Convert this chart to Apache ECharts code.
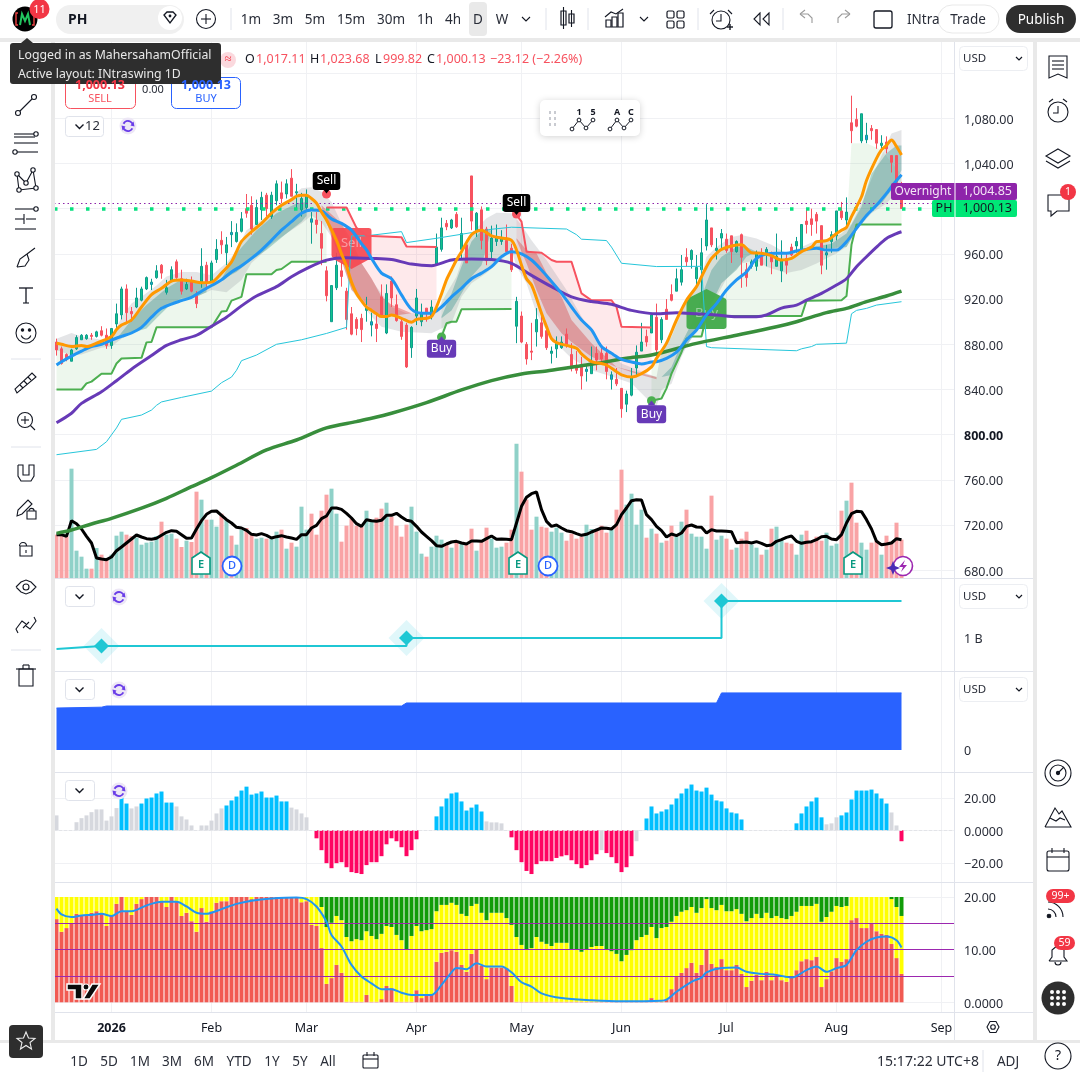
<!DOCTYPE html>
<html><head><meta charset="utf-8">
<style>html,body{margin:0;padding:0;background:#fff}#c{width:1080px;height:1080px}</style>
<script src="https://cdn.jsdelivr.net/npm/echarts@6/dist/echarts.min.js"></script>
</head><body><div id="c"></div>
<script>
// ---------- DATA ----------
const HOLIDAYS = ['2025-12-25','2026-01-01','2026-01-19','2026-02-16','2026-04-03','2026-05-25','2026-06-19','2026-07-03','2026-09-07'];
const FIRST_DAY = '2025-12-16';
const BAR_SLOTS = 180;
const MONTH_NAMES = ['2026','Feb','Mar','Apr','May','Jun','Jul','Aug','Sep'];
const PRICE_GRID_TICKS = [680,720,760,800,840,880,920,960,1000,1040,1080,1120];
const PRICE_LABEL_TICKS = [680,720,760,800,840,880,920,960,1000,1040,1080];
const OSC_TICKS = [-20,0,20];
const RSI_TICKS = [0,10,20];
// open, high, low, close
const ohlc = [[882,885,870,875],[876,878,862,863],[871,872,865,867],[865,876,865,875],[876,888,875,886],[884,889,884,888],[885,889,884,888],[888,890,884,887],[887,892,886,891],[892,896,887,888],
[888,894,876,879],[879,894,876,894],[898,916,894,907],[906,931,902,929],[929,933,898,908],[909,913,900,907],[913,930,912,921],[919,931,918,929],[929,940,928,939],[933,938,928,935],
[939,950,938,945],[950,951,938,943],[926,937,924,930],[936,949,935,946],[953,955,938,939],[938,946,924,927],[929,938,928,933],[936,940,926,927],[923,927,912,916],[935,965,930,949],
[950,953,928,935],[935,954,935,952],[955,973,952,964],[972,980,960,968],[961,975,950,968],[979,989,966,977],[971,987,970,979],[980,997,979,991],[1000,1013,992,996],[1003,1011,977,982],
[986,1008,986,1001],[999,1015,990,1010],[1012,1014,993,1000],[993,1015,991,1012],[1007,1025,1003,1022],[1014,1024,1005,1009],[1013,1026,1009,1022],[1027,1035,1011,1011],[1014,1022,1000,1015],[999,1014,993,1009],
[1001,1017,999,1011],[991,997,969,988],[990,997,978,986],[978,989,950,965],[945,949,918,923],[900,932,900,932],[930,961,928,950],[945,953,931,940],[927,930,893,902],[907,913,888,889],
[902,904,888,894],[903,907,882,893],[910,922,900,912],[897,908,887,900],[898,908,882,894],[922,933,905,905],[890,933,889,925],[936,940,913,921],[915,924,900,901],[900,903,884,887],
[897,899,859,860],[877,896,868,895],[905,929,897,921],[900,916,896,908],[912,912,900,908],[905,919,902,913],[951,978,950,966],[964,992,962,983],[987,990,981,984],[983,991,982,990],
[995,997,983,984],[964,992,955,978],[968,972,952,952],[1029,1029,981,989],[980,997,975,996],[999,1002,964,972],[982,984,950,954],[962,985,955,974],[971,986,967,975],[971,981,968,974],
[972,986,961,962],[965,969,944,946],[896,922,881,918],[905,909,881,882],[880,882,862,867],[874,899,866,873],[891,912,878,902],[899,908,885,887],[892,894,875,877],[872,878,863,874],
[876,887,868,881],[877,887,876,882],[889,894,877,879],[871,881,856,860],[860,874,854,857],[860,869,840,852],[856,862,847,858],[854,878,854,865],[872,878,857,866],[872,879,862,867],
[872,878,849,856],[849,856,840,853],[849,859,843,845],[841,841,815,823],[827,839,820,836],[835,859,834,851],[859,879,851,873],[874,899,874,882],[887,893,878,882],[890,908,890,906],
[904,916,869,875],[884,904,881,902],[911,920,902,902],[924,933,918,919],[927,947,927,938],[935,959,932,946],[957,965,949,953],[955,964,947,963],[938,959,931,948],[946,974,916,961],
[967,1004,963,990],[983,983,966,968],[963,974,955,965],[974,982,965,978],[973,978,961,963],[976,976,952,962],[962,972,961,971],[977,978,930,957],[946,952,931,939],[949,955,947,953],
[949,963,945,961],[958,965,950,950],[961,966,949,964],[959,962,942,953],[949,978,949,958],[945,972,935,955],[956,961,942,950],[966,969,958,959],[967,975,961,971],[963,986,961,986],
[989,1000,978,986],[991,1000,976,986],[995,997,978,989],[985,985,942,950],[959,968,946,961],[971,980,961,977],[976,998,972,998],[998,1006,990,992],[990,1010,982,997],[1076,1100,1058,1069],
[1079,1089,1072,1073],[1060,1084,1058,1084],[1061,1076,1058,1065],[1071,1074,1061,1069],[1070,1070,1053,1058],[1056,1065,1051,1058],[1059,1064,1049,1053],[1047,1047,1032,1041],[1047,1047,1021,1023.25],[1017.11,1023.68,999.82,1000.13]];
const blueCandleIdx = [19,35,51,63,106,111,154,162];
const volume = [130,130,125,328,82,64,28,28,90,70,55,70,127,139,130,125,121,100,106,109,126,169,130,133,118,93,112,108,259,235,175,175,154,193,175,127,100,145,150,130,118,121,118,120,139,145,88,106,94,214,145,193,130,202,250,268,193,109,157,178,157,154,202,169,181,208,226,184,157,124,160,214,139,73,64,94,127,115,100,91,109,103,100,148,82,109,151,118,91,94,106,145,403,319,235,145,184,154,151,139,151,136,112,133,118,124,160,147,145,157,136,145,205,325,220,253,160,205,121,148,133,106,112,157,124,169,205,133,124,124,88,247,115,127,118,85,91,118,139,100,91,70,85,148,154,112,106,103,70,130,142,109,124,112,136,97,103,202,232,286,166,106,85,106,112,70,127,109,166,115];
const volumeMA = [130,130,125,172,163,147,125,105,60,57,55,63,82,93,105,117,129,123,118,116,119,128,137,142,140,130,119,120,147,172,191,200,201,188,175,165,152,150,143,131,129,133,128,120,124,127,123,120,116,130,130,150,158,178,186,210,210,206,194,180,163,155,175,172,170,173,188,188,194,183,173,170,155,138,125,112,97,95,102,108,110,105,102,111,111,110,118,126,116,117,116,115,165,215,242,253,258,205,170,155,159,150,142,139,133,128,131,138,144,150,149,147,160,190,210,232,235,234,190,175,155,142,123,132,127,135,155,159,153,152,135,145,141,141,140,139,106,107,108,105,109,104,97,99,110,115,122,126,110,104,107,109,115,124,125,117,115,130,165,193,200,199,175,147,110,100,102,105,118,115];
const orangeMA = [[0,881],[1,880],[3,878],[5,879],[6,878],[8,881],[11,887],[12,893],[13,897],[15,901.5],[17,913],[19,924],[21,929.5],[23,936],[25,937],[27,936],[29,934.5],[31,935],[33,943],[35,953],[36,962],[37,971],[39,979.6],[41,987],[43,996],[45,1003],[47,1008],[48,1011],[49,1012],[50,1012],[51,1009],[52,1005],[53,997],[54,990],[56,972],[57,960],[58,949],[59,935],[60,925],[61,918.6],[62,913],[63,910],[64,907],[65,904.5],[66,904.5],[67,906],[69,903],[71,899.5],[72,902],[74,903],[75,904.5],[76,913],[77,924.6],[78,937],[79,946],[80,954.6],[81,962],[82,970],[83,977],[84,980],[85,981],[87,976],[89,974],[91,972],[92,963.5],[93,950],[94,938],[95,932.5],[96,920.7],[97,907.5],[98,895.6],[99,885],[100,881.5],[102,879],[104,876.5],[105,871.5],[107,864.7],[109,863],[110,861.7],[112,855.8],[113,853],[115,851],[117,854],[119,860],[120,867.5],[122,881],[124,901.5],[126,919],[128,931],[129,939.8],[130,948.6],[131,956],[132,960.5],[133,964],[135,967],[137,968],[139,961],[141,960.5],[143,958.4],[145,954.5],[147,956],[149,962],[151,966],[152,970.8],[154,971.7],[156,978],[157,981],[158,983.5],[159,993],[161,1010.6],[162,1025],[164,1044.5],[165,1052],[166,1056],[167,1060.7],[168,1055],[169,1047.5]];
const blueMA = [[0,861.6],[1,864.6],[3,869.6],[5,874],[7,878],[9,880],[11,883.8],[13,887],[15,890],[17,895],[19,904],[21,911.8],[23,915.6],[25,918.6],[27,921.5],[29,927],[31,932],[33,937],[35,944],[37,949.5],[39,956],[41,963.4],[43,972],[45,981],[47,988.5],[49,996],[51,998.8],[53,998],[55,991],[57,987],[59,981],[61,969],[62,963.5],[63,956],[65,943],[67,938],[69,923.7],[71,911],[73,907.5],[75,907.5],[77,913],[79,922],[81,929.6],[83,938],[85,943],[87,948.7],[89,957.6],[91,962],[93,960],[95,954.6],[97,945.8],[99,935.5],[101,925],[103,913],[105,901.5],[107,892.7],[109,878],[111,872],[113,866.7],[115,864.4],[117,862.6],[119,864.4],[120,864.6],[122,867.5],[124,873],[126,883.8],[128,892.6],[130,906],[132,916],[134,928],[136,937],[138,944],[140,956],[142,960],[144,960.5],[146,960.5],[148,962.5],[150,964],[152,965],[154,963.4],[156,963.4],[158,970.8],[160,982.6],[162,994],[164,1003],[166,1013.5],[167,1019.5],[169,1030]];
const purpleMA = [[0,810.6],[3,819],[5,827.7],[9,838],[12,847.8],[15,858],[19,870],[22,879],[25,884],[28,888],[31,896],[34,904],[37,914],[40,922.7],[44,931],[47,939.8],[50,947],[54,954.5],[58,956.6],[63,956],[67,955],[71,951],[75,949.6],[79,954.6],[83,955.5],[87,955],[91,951.7],[95,941],[99,931],[103,922],[107,917.8],[111,915.4],[115,910],[120,907],[124,908],[128,907],[132,905.9],[136,904.4],[140,904.4],[142,906],[145,912],[148,914.7],[150,919],[153,925],[156,932.4],[158,938],[160,948.6],[162,957.5],[164,966],[166,973.7],[168,978],[169,979.6]];
const darkGreenMA = [[0,712.7],[3,715.7],[7,721],[11,726],[17,735],[22,743.7],[27,754],[31,762],[36,773],[42,786.5],[48,795.3],[54,806],[60,811.6],[63,814.5],[67,819],[74,828.4],[81,839.6],[87,847.9],[93,853.8],[98,856.4],[103,859.7],[107,862.3],[114,867.6],[119,870.5],[128,880.8],[136,888],[144,895.5],[148,900],[154,908],[158,911.8],[162,917.7],[166,922.7],[169,927]];
const cyanLine = [[0,782.3],[8,787],[10,793.8],[12,806],[13,813.6],[17,817.4],[19,821.8],[20,826],[21,829],[25,833],[31,838.6],[33,846],[35,851],[36,857],[37,865.5],[40,870.5],[44,880],[49,884],[54,889.6],[58,895],[59,976],[62,976],[69,979.7],[70,970],[76,973.8],[83,978.8],[87,981.8],[91,983.6],[102,982],[104,977],[105,973],[110,971.8],[111,966],[113,951.7],[120,948.8],[129,949],[130,878],[131,877],[148,874.3],[149,876],[151,878],[152,880],[158,881],[159,907],[160,910],[162,911.8],[164,914.7],[169,917.7]];
const greenStepA = [[0,840],[5,840],[6,845.4],[7,847],[9,854],[11,854],[12,863],[13,867.5],[17,868],[18,881.7],[19,882],[20,895],[31,895],[33,909],[34,909.4],[35,918.6],[37,922],[38,942],[43,942],[44,945.7],[45,946.6],[47,953],[54,953]];
const greenStepB = [[77,886.8],[78,898.6],[79,900],[80,900],[81,911],[91,911.3]];
const greenStepC = [[119,830],[121,832],[122,841],[123,854],[125,873],[126,885],[127,887],[129,887],[130,905],[149,905],[150,918.6],[157,919],[158,922.7],[159,968],[160,986],[169,986]];
const redStepA = [[54,1001],[58,1001],[60,983],[62,976],[69,974.7],[70,966.5],[76,966]];
const redStepB = [[92,994.5],[93,988.6],[94,962],[97,961],[99,954.6],[100,953],[103,953],[105,925],[106,922],[107,919],[111,919],[112,913],[113,895.6],[119,894.8]];
const lateFillTop = [[158,983.5],[159,1058],[162,1058],[165,1052],[169,1030]];
const grayUpper = [[0,885],[3,890],[5,887],[9,884],[11,885],[13,904],[15,916],[17,922],[20,932],[22,940],[25,944],[28,944],[31,941],[34,952],[36,963],[38,981],[40,987],[43,996],[46,1006],[49,1018],[51,1019],[53,1015],[55,1006],[57,987],[59,966],[61,952],[64,931],[67,913],[70,907.5],[74,907.5],[76,909],[78,925],[80,940],[82,966.5],[84,982.7],[86,991.5],[88,996.5],[91,996],[93,985.6],[95,972],[98,954.6],[102,928],[105,904.5],[109,878],[113,863],[117,856],[120,851],[121,875],[123,886.7],[126,919],[129,940],[130,957.5],[132,966],[135,975],[137,976.7],[140,973.7],[143,968],[146,960.5],[149,966],[152,972],[155,973.7],[157,978],[159,987],[161,1004.7],[164,1037],[167,1066.6],[169,1069.6]];
const grayLower = [[0,875],[3,870],[5,871],[9,877],[11,878],[13,885],[16,893],[18,897],[20,910],[23,916],[25,921],[28,922],[31,928],[34,926],[37,937],[39,952],[41,960],[43,969],[46,978],[49,987],[51,994],[53,988],[55,975],[57,954],[59,928],[61,916],[63,904.5],[65,895.6],[69,891],[75,889.8],[77,894],[79,898.6],[81,922],[83,934],[86,943],[89,954.6],[91,963.5],[92,948.8],[94,934],[96,907.5],[99,885],[103,867.6],[107,857],[111,851.4],[115,845.5],[119,827.8],[120,825],[121,839.5],[123,845],[125,869],[127,886.7],[129,904],[132,922],[134,938],[137,951.6],[140,954.5],[142,948.6],[146,943],[149,945.7],[152,951.6],[156,960.5],[158,966],[160,981],[163,996],[166,1004.7],[169,1019.5]];
const tealUpperA = [[12,885],[15,901.5],[18,914.7],[22,929.5],[25,937.4],[28,935.4],[30,934.5]];
const tealLowerA = [[12,885],[15,890],[18,894],[20,903],[23,916],[25,918.6],[28,922],[30,926]];
const tealUpperB = [[33,938],[36,960.5],[40,981],[44,996],[48,1004.7],[50,1006]];
const tealLowerB = [[33,937],[36,944],[39,954.6],[42,963.4],[46,978],[49,988.5],[50,993.5]];
const tealUpperC = [[77,904.5],[79,925],[81,948.8],[83,971],[85,981],[87,981]];
const tealLowerC = [[77,903],[79,910],[81,925],[83,940],[85,950],[87,981]];
const tealUpperD = [[121,851],[123,860],[125,881],[127,898.5],[131,945.7],[133,957.5],[136,966],[138,966],[140,962]];
const tealLowerD = [[121,851],[123,852.8],[125,872],[127,885],[130,907],[133,934],[136,945.7],[138,957.5],[140,962]];
const tealUpperE = [[149,964],[155,969],[158,978],[161,1001.8],[163,1031],[166,1049],[168,1056],[169,1056]];
const tealLowerE = [[149,964],[155,965],[158,966],[161,988.5],[163,999],[165,1004.7],[167,1016.5],[169,1034]];
const redUpperA = [[53,1003],[57,987],[59,972],[61,951.7],[63,938.4],[65,922],[67,915],[71,907.5]];
const redLowerA = [[53,1001.7],[55,975],[57,954.6],[59,928],[61,920.7],[63,910],[65,906],[67,905],[71,907.5]];
const redUpperB = [[92,973.8],[94,963.5],[96,960.5],[98,943],[101,922],[103,901.5],[107,881],[112,860],[120,851]];
const redLowerB = [[92,972.4],[94,951.7],[96,928],[98,907.5],[101,889.8],[103,882],[107,869],[112,860],[116,854],[120,849]];
const sellDots = [[54,1013],[92,995.3]];
const sellTags = [[54,1024.5],[92,1005]];
const sellTips = [[54,1015.7],[92,996.6]];
const buyDots = [[77,886.5],[119,830]];
const buyTags = [[77,876],[119,818]];
const buyTips = [[77,885],[119,828]];
const bigSell = [[59,969.6]];
const bigBuy = [[130,907.7]];
const lastPrice = 1000.13;
const overnightPrice = 1004.85;
// earnings pane (billions)
const epsLine = [[0,0.9],[9,0.927],[70,0.927],[70,1],[133,1],[133,1.336],[169,1.336]];
const epsMarks = [[9,0.927],[70,1],[133,1.336]];
const salesArea = [[0,5],[9,5.1],[10,5.24],[69,5.24],[70,5.6],[132,5.6],[133,6.8],[169,6.8]];
// momentum histogram
const hist = [9.2,0,0,0,5,7.5,9.2,11.2,12.9,12.9,6,8.6,13.7,20.4,16.5,13.5,14.7,16.5,19.6,20.2,22.7,23.9,17.1,17.1,14.7,8.6,6.7,3,0,3,3,6,10.4,13.5,15.3,18.4,20.8,24.5,26.9,22,22.7,23.9,20.2,20.2,21.4,17.8,17.8,14,12.9,10.4,8,0,-4.9,-12.2,-20.2,-23.3,-20.2,-19.6,-22.7,-25.7,-26.3,-26.9,-21.4,-19.6,-19.6,-15.9,-8.6,-4.9,-6.7,-10.4,-15.9,-12.2,-5.5,0,0,0,8.6,14.7,19.6,22.7,23.3,17.8,12.2,14,15.9,11.6,5.5,4.9,4.9,4.3,0,-4.3,-12.2,-19.6,-25,-26.9,-20.8,-19,-19,-19,-17,-16,-15.3,-18.4,-20.8,-23.3,-21.4,-18.4,-14.7,-12.2,-14,-16.5,-20.2,-25.7,-22.7,-15.9,-6.7,0,7.3,14.7,10.4,11.6,12.9,15.9,19.6,22.7,25.7,28.2,24.5,23.9,26.3,22,18.4,17.8,13.5,11,10.4,6.7,0,0,0,0,0,0,0,0,0,0,4.3,10.4,14.7,17.8,20.2,8,3.7,4.3,8,9.2,11,19,24.5,24.5,24.5,25.1,22.7,19.6,16.5,11,3,-6.7];
const histGrayIdx = [0,4,5,6,7,8,9,10,11,12,15,16,24,25,26,27,29,30,31,32,33,47,48,49,50,86,87,88,89,109,116,154,155,156,167,168];
// stacked oscillator: red height and top of yellow
const redPart = [15.8,13.4,14.1,14.9,16.8,16.6,16.6,17,17.3,16.8,14.5,16.4,18.7,20,17.2,16.6,18.7,19.6,20,20,20,19.2,18.1,20,19.2,16.4,17,15.4,13.4,17.9,15.3,17.3,18.9,19.2,19.2,20,20,20,20,19.6,20,20,20,20,20,20,20,20,20,19,19.2,14.7,14.5,10.3,3.5,4.6,7.1,5.6,0.1,0.1,0.1,0.1,1.4,0.1,0.1,0.6,3.1,2.7,0.1,0.1,0.1,0.1,2.3,0.8,1.4,1.4,7.7,9.4,9.6,9.9,9.6,7.1,5.8,9.2,10.1,6.9,4.4,6.6,6.6,6.6,6.5,3.1,0.1,0.1,0.1,0.1,0.1,0.1,0.1,0.1,0.1,0.1,0.1,0.1,0.1,0.1,0.1,0.1,0.1,0.1,0.1,0.1,0.1,0.1,0.1,0.1,0.1,0.1,0.1,0.8,0.1,0.1,0.6,2.5,4.8,5.6,6.5,7.5,5.6,7.1,10.1,7.3,6.7,8.2,6.1,6.1,7.1,5.4,2.9,4.1,5.2,4.2,5.8,4.2,4.8,4.2,3.9,5,6.1,7.8,8.2,8,8.6,2.9,4.4,5.9,8.4,7.7,8.2,15.6,16,14.1,14.1,15.1,13.5,13,12.8,11.1,8.4,5.4];
const yellowTop = [20,20,20,20,20,20,20,20,20,20,20,20,20,20,20,20,20,20,20,20,20,20,20,20,20,20,20,20,20,20,20,20,20,20,20,20,20,20,20,20,20,20,20,20,20,20,20,20,20,20,20,20,20,18.1,14.3,15.1,16.4,15.6,12.4,11.6,12,11.8,13.5,12.6,12,13,14.5,14.3,12.8,11.8,10.1,12.6,14.5,13.5,13.7,13.9,17.3,18.5,18.5,18.9,18.5,16.8,16.4,18.3,18.7,17,15.6,17,17,17,16,14.7,12.4,10.9,10.1,10.3,12.4,11.5,11.1,10.7,11.3,11.3,11.3,10.1,10.1,9.6,10.1,10.5,10.7,10.7,10.1,9.7,9.2,7.8,9,9.9,11.8,12.4,12.8,14.3,12.2,14.1,14.3,15.3,16.4,17.2,17.5,18.1,17,17.9,19.6,17.9,17.5,18.5,17.3,17.3,17.7,16.8,15.4,16,16.8,16,17,16,16.4,16,15.8,16.4,17.2,18.3,18.3,18.3,18.7,15.3,16.2,17.2,18.3,18.1,18.3,20,20,20,20,20,20,20,20,19.6,18.1,16.4];
const rsiLine = [[0,17.8],[1,16.7],[3,16.2],[5,16.5],[7,16.6],[9,16.8],[11,16.4],[13,17.3],[15,17.3],[18,18.4],[21,19.1],[24,19.1],[26,18.2],[28,17],[30,16.8],[33,17.7],[36,18.7],[39,19.3],[43,19.7],[48,19.9],[50,19.6],[52,18.2],[54,15.3],[55,12.8],[57,10.6],[59,7.1],[61,4.9],[63,3.6],[65,2.5],[67,2.5],[69,1.8],[71,1.4],[75,1.4],[77,3.3],[79,5.7],[80,6.5],[82,6.3],[84,7.4],[86,6.8],[89,6.8],[91,5.7],[93,3.8],[95,3],[97,1.7],[101,0.8],[107,0.4],[113,0.2],[121,0.3],[122,0.5],[124,2],[127,3.9],[129,4.7],[130,5.7],[133,6.5],[136,6.6],[138,5.8],[141,5.4],[144,5.2],[147,4.7],[150,6.1],[152,6.8],[154,5.8],[156,6.5],[158,7.1],[160,9.9],[162,11.5],[164,12.3],[166,12.5],[168,11.8],[169,10.4]];
const rsiLevels = [15,10,5];

// ---------- AXIS CATEGORIES ----------
const categories = [];
(function(){ let d = new Date(FIRST_DAY+'T00:00:00Z');
  while (categories.length < BAR_SLOTS) { const s = d.toISOString().slice(0,10), w = d.getUTCDay();
    if (w>0 && w<6 && !HOLIDAYS.includes(s)) categories.push(s); d = new Date(d.getTime()+864e5); } })();
const monthStart = new Map(); let monthNo = 0; let prevM = '2025-12';
categories.forEach((c,i)=>{ const m=c.slice(0,7); if(m!==prevM){ monthStart.set(i,MONTH_NAMES[monthNo++]); prevM=m; } });
const isMonth = i => monthStart.has(i);

// ---------- STYLE ----------
const FONT='"Noto Sans"', INK='#131722', GRIDC='#f0f1f4', SEP='#e0e3eb';
const UP='#12c48b', UPB='#0e9d8e', DN='#f7525f';
const grids=[{left:54,width:900,top:42,height:536},{left:54,width:900,top:579,height:92},{left:54,width:900,top:672,height:100},{left:54,width:900,top:773,height:109},{left:54,width:900,top:883,height:129}];
const xAxisFor=(g,last)=>({type:'category',gridIndex:g,data:categories,boundaryGap:true,axisLine:{show:false},axisTick:{show:false},
  splitLine:{show:true,interval:(i)=>isMonth(i),alignWithLabel:true,lineStyle:{color:GRIDC,width:1}},
  axisLabel:last?{show:true,interval:(i)=>isMonth(i),margin:10,fontFamily:FONT,fontSize:12.5,color:INK,
    formatter:(v,i)=>{const n=monthStart.get(i);return n==='2026'?'{b|2026}':(n||'');},rich:{b:{fontWeight:700,fontFamily:FONT,fontSize:12.5,color:INK}}}:{show:false}});
const fmt2=v=>v.toLocaleString('en-US',{minimumFractionDigits:2,maximumFractionDigits:2});
const yAxisFor=(g,min,max,grid,labels,fmt,extra)=>Object.assign({type:'value',gridIndex:g,position:'right',min,max,scale:true,axisLine:{show:false},
  axisTick:{show:false,customValues:grid},splitLine:{show:grid.length>0,lineStyle:{color:GRIDC,width:1}},
  axisLabel:{show:labels.length>0,customValues:labels,margin:10,padding:[3.5,0,0,0],fontFamily:FONT,fontSize:12.5,color:'#2a2e39',formatter:fmt,hideOverlap:false,showMinLabel:true,showMaxLabel:true,
    rich:{b:{fontWeight:700,fontFamily:FONT,fontSize:12.5,color:INK}}}},extra||{});

// ---------- SERIES HELPERS ----------
const seg=(a,from,to)=>a.filter(p=>p[0]>=from&&p[0]<=to);
const ribbon=(upper,lower,fill,z)=>({type:'custom',xAxisIndex:0,yAxisIndex:0,z,silent:true,clip:true,data:[upper[0]],
  renderItem:(p,api)=>({type:'polygon',silent:true,shape:{points:upper.map(q=>api.coord(q)).concat(lower.slice().reverse().map(q=>api.coord(q)))},style:{fill}})});
const line=(data,color,width,z,smooth,xi,yi)=>({type:'line',xAxisIndex:xi||0,yAxisIndex:yi||0,data,showSymbol:false,smooth:smooth||false,z,silent:true,lineStyle:{color,width},itemStyle:{color}});
const tag=(data,text,fill)=>({type:'scatter',xAxisIndex:0,yAxisIndex:0,data,symbol:'rect',symbolSize:1,z:9,silent:true,itemStyle:{color:fill,opacity:1},
  label:{show:true,position:'inside',formatter:text,color:'#fff',fontFamily:FONT,fontSize:12,backgroundColor:fill,borderRadius:3,padding:[3,4,3,4]}});
const tip=(data,fill,rot)=>({type:'scatter',xAxisIndex:0,yAxisIndex:0,data,symbol:'triangle',symbolSize:[8,5],symbolRotate:rot,z:9,silent:true,itemStyle:{color:fill,opacity:1}});
const pin=(data,color,size)=>({type:'scatter',xAxisIndex:0,yAxisIndex:0,data,symbol:'circle',symbolSize:size,z:8,silent:true,itemStyle:{color,opacity:1}});
const bigMark=(data,kind)=>({type:'custom',xAxisIndex:0,yAxisIndex:0,z:5,silent:true,data,renderItem:(p,api)=>{
  const c=api.coord(data[p.dataIndex]), sell=kind==='Sell', col=sell?'rgba(246,72,80,.92)':'rgba(67,170,75,.97)';
  return {type:'group',x:c[0],y:c[1],children:[
    {type:'rect',shape:{x:-20,y:-15,width:40,height:sell?30:31,r:3},style:{fill:col}},
    {type:'polygon',shape:{points:sell?[[-20,15],[20,15],[0,26]]:[[-18,-15],[18,-15],[0,-24]]},style:{fill:col}},
    {type:'text',x:0,y:0,style:{text:kind,fill:'rgba(255,255,255,.45)',font:'13px '+FONT,align:'center',verticalAlign:'middle',textAlign:'center',textVerticalAlign:'middle'}}]};}});

const candleData=ohlc.map((r,i)=>{const o={value:[r[0],r[3],r[2],r[1]]};
  if(blueCandleIdx.includes(i)) o.itemStyle={color:'#2196f3',color0:'#2196f3',borderColor:'#0e9d8e',borderColor0:'#f7525f'};return o;});
const volData=volume.map((v,i)=>({value:v,itemStyle:{color:ohlc[i][3]>=ohlc[i][0]?'#8fd1c8':'#f9a3a5'}}));
const histData=hist.map((v,i)=>({value:v,itemStyle:{color:histGrayIdx.includes(i)?'#d6d8de':(v>=0?'#00bfff':'#ff0562')}}));

const series=[
  ribbon(seg(orangeMA,0,54),greenStepA,'rgba(76,175,80,.10)',2),
  ribbon(redStepA,seg(orangeMA,54,76),'rgba(242,54,69,.11)',2),
  ribbon(seg(orangeMA,77,91),greenStepB,'rgba(76,175,80,.10)',2),
  ribbon(redStepB,seg(orangeMA,92,119),'rgba(242,54,69,.11)',2),
  ribbon(seg(orangeMA,119,157).concat(lateFillTop),greenStepC,'rgba(76,175,80,.10)',2),
  ribbon(grayUpper,grayLower,'rgba(120,123,134,.20)',3),
  ribbon(tealUpperA,tealLowerA,'rgba(0,120,110,.28)',3),ribbon(tealUpperB,tealLowerB,'rgba(0,120,110,.28)',3),
  ribbon(tealUpperC,tealLowerC,'rgba(0,120,110,.28)',3),ribbon(tealUpperD,tealLowerD,'rgba(0,120,110,.28)',3),ribbon(tealUpperE,tealLowerE,'rgba(0,120,110,.28)',3),
  ribbon(redUpperA,redLowerA,'rgba(210,50,50,.35)',3),ribbon(redUpperB,redLowerB,'rgba(210,50,50,.35)',3),
  {type:'bar',xAxisIndex:0,yAxisIndex:1,data:volData,barWidth:4,z:2,silent:true},
  line(volumeMA.map((v,i)=>[i,v]),'#000',3,4,false,0,1),
  {type:'candlestick',xAxisIndex:0,yAxisIndex:0,data:candleData,barWidth:3.2,z:4,silent:true,
    itemStyle:{color:UP,color0:DN,borderColor:UPB,borderColor0:DN,borderWidth:1},
    markLine:{silent:true,symbol:'none',animation:false,label:{show:false},data:[
      {yAxis:lastPrice,lineStyle:{color:'#08e07f',width:3.5,type:[3.5,12.5]}},
      {yAxis:overnightPrice,lineStyle:{color:'#8e24aa',width:1,type:[1.5,3]}}]}},
  bigMark(bigSell,'Sell'),bigMark(bigBuy,'Buy'),
  line(cyanLine,'#26c6da',1,5),
  line(greenStepA,'#4caf50',2,5),line(greenStepB,'#4caf50',2,5),line(greenStepC,'#4caf50',2,5),
  line(redStepA,'#f7525f',2,5),line(redStepB,'#f7525f',2,5),
  line(darkGreenMA,'#388e3c',3.5,6,0.3),
  line(purpleMA,'#673ab7',3,6,0.3),
  line(blueMA,'#2196f3',3,7,0.3),
  line(orangeMA,'#ff9800',3,7,0.3),
  pin(sellDots,'#f7525f',9),pin(buyDots,'#4caf50',9),
  tag(sellTags,'Sell','#000'),tag(buyTags,'Buy','#673ab7'),
  tip(sellTips,'#000',180),tip(buyTips,'#673ab7',0),
  // earnings pane
  line(epsLine,'#1fc7d4',2,3,false,1,2),
  {type:'scatter',xAxisIndex:1,yAxisIndex:2,data:epsMarks,symbol:'diamond',symbolSize:36,z:2,silent:true,itemStyle:{color:'rgba(38,198,218,.14)',opacity:1}},
  {type:'scatter',xAxisIndex:1,yAxisIndex:2,data:epsMarks,symbol:'diamond',symbolSize:15,z:4,silent:true,itemStyle:{color:'#1fc7d4',opacity:1}},
  // sales area
  {type:'line',xAxisIndex:2,yAxisIndex:3,data:salesArea,showSymbol:false,silent:true,lineStyle:{color:'#2962ff',width:1},areaStyle:{color:'#2962ff',opacity:1,origin:0}},
  // histogram
  {type:'bar',xAxisIndex:3,yAxisIndex:4,data:histData,barWidth:4,silent:true,
    markLine:{silent:true,symbol:'none',animation:false,label:{show:false},data:[{yAxis:0,lineStyle:{color:'#e3e4e8',width:1,type:[3,2]}}]}},
  // stacked oscillator
  {type:'bar',xAxisIndex:4,yAxisIndex:5,stack:'s',data:redPart,barWidth:4,silent:true,itemStyle:{color:'#f15a52'}},
  {type:'bar',xAxisIndex:4,yAxisIndex:5,stack:'s',data:yellowTop.map((v,i)=>+(v-redPart[i]).toFixed(1)),barWidth:4,silent:true,itemStyle:{color:'#ffff00'}},
  {type:'bar',xAxisIndex:4,yAxisIndex:5,stack:'s',data:yellowTop.map(v=>+(20-v).toFixed(1)),barWidth:4,silent:true,itemStyle:{color:'#119c08'},
    markLine:{silent:true,symbol:'none',animation:false,z:6,label:{show:false},lineStyle:{color:'#9c27b0',width:1,type:'solid'},data:rsiLevels.map(v=>({yAxis:v}))}},
  line(rsiLine,'#2196f3',2,6,0.3,4,5),
];

// ---------- CHROME (graphic layer) ----------
const G=[], Z=100;
const sty=(o)=>Object.assign({stroke:'#131722',lineWidth:1.1,fill:'none'},o||{});
const rect=(x,y,w,h,fill,o={})=>G.push({type:'rect',z:o.z||Z,silent:true,shape:{x,y,width:w,height:h,r:o.r||0},style:{fill,stroke:o.stroke||'none',lineWidth:o.lw||1,shadowBlur:o.sb||0,shadowColor:o.sc||'transparent',shadowOffsetY:o.sy||0}});
const ln=(x1,y1,x2,y2,c,w,z)=>G.push({type:'line',z:z||Z,silent:true,shape:{x1,y1,x2,y2},style:{stroke:c||INK,lineWidth:w||1.1}});
const pl=(pts,o)=>G.push({type:'polyline',z:Z,silent:true,shape:{points:pts},style:sty(o)});
const pg=(pts,o)=>G.push({type:'polygon',z:Z,silent:true,shape:{points:pts},style:sty(o)});
const circ=(x,y,r,o)=>G.push({type:'circle',z:Z,silent:true,shape:{cx:x,cy:y,r},style:sty(o)});
const arc=(x,y,r,a,b,o)=>G.push({type:'arc',z:Z,silent:true,shape:{cx:x,cy:y,r,startAngle:a,endAngle:b,clockwise:true},style:sty(o)});
const txt=(x,y,text,o={})=>G.push({type:'text',z:o.z||Z+1,silent:true,x,y:y+1,style:{text,fill:o.c||INK,font:`${o.w||400} ${o.s||13}px ${FONT}`,align:o.a||'center',verticalAlign:'middle',textAlign:o.a||'center',textVerticalAlign:'middle'}});

// panel frames
rect(0,0,1080,38,'#fff'); rect(0,38,1080,4,'#e9e9e9');
rect(0,42,51,998,'#fff'); rect(51,42,4,998,'#e9e9e9');
rect(1033,42,4,998,'#e9e9e9'); rect(1037,42,43,998,'#fff');
rect(0,1040,1080,3,'#e9e9e9'); rect(0,1043,1080,37,'#fff');
ln(954.5,42,954.5,1040,SEP,1);
[578.5,671.5,772.5,882.5,1012.5].forEach(y=>ln(55,y,1033,y,SEP,1));

// top bar
circ(25,19,12.5,{fill:'#000',stroke:'none'}); pl([[20,25],[22,14],[25,21],[28,14],[30,25]],{stroke:'#22c55e',lineWidth:2});
pl([[18,13],[16,13],[16,25],[18,25]],{stroke:'#ef4444',lineWidth:1.4}); pl([[32,13],[34,13],[34,25],[32,25]],{stroke:'#ef4444',lineWidth:1.4});
circ(39.5,9,10,{fill:'#f23645',stroke:'none'}); txt(39.5,9,'11',{c:'#fff',s:11});
rect(56,5,128,29,'#f0f0f0',{r:14.5}); txt(68,19,'PH',{a:'left',w:700,s:14});
circ(170,18,12,{fill:'#fff',stroke:'none'}); pg([[164,15],[167,12],[173,12],[176,15],[170,23]],{lineWidth:1.3}); circ(170,16,1.4,{fill:INK,stroke:'none'});
circ(206,19,9.5,{}); ln(201,19,211,19); ln(206,14,206,24); ln(231,8,231,30,SEP,1);
rect(469,2,18,34,'#e9e9e9',{r:4});
[['1m',251],['3m',283],['5m',315],['15m',351],['30m',391],['1h',425],['4h',453],['D',478],['W',502]].forEach(a=>txt(a[1],19,a[0],{s:13.5,c:'#2a2e39'}));
pl([[522,17],[526,21],[530,17]],{}); ln(546,8,546,30,SEP,1);
rect(561,11,5,14,'#fff',{stroke:INK,lw:1.2}); ln(563.5,7,563.5,29); rect(569,14,5,9,'#fff',{stroke:INK,lw:1.2}); ln(571.5,10,571.5,27); ln(588,8,588,30,SEP,1);
rect(606,20,5,7,'none',{stroke:INK,lw:1.2}); rect(612,17,5,10,'none',{stroke:INK,lw:1.2}); rect(618,13,5,14,'none',{stroke:INK,lw:1.2}); pl([[605,17],[611,12],[616,14],[623,9]],{});
pl([[640,17],[644,21],[648,17]],{});
[[667,11],[677,11],[667,21],[677,21]].forEach(p=>rect(p[0],p[1],7,7,'none',{stroke:INK,lw:1.2,r:1.5})); ln(698,8,698,30,SEP,1);
circ(721,20,9,{}); pl([[721,14],[721,21],[716,21]],{}); ln(714,10,710,14); ln(728,10,732,14); ln(727,27,733,27,INK,1.4); ln(730,24,730,30,INK,1.4);
pg([[760,13],[754,19],[760,25]],{}); pg([[769,13],[763,19],[769,25]],{}); ln(783,8,783,30,SEP,1);
pl([[800,14],[805,10]],{stroke:'#9a9a9a'}); pl([[800,14],[805,18]],{stroke:'#9a9a9a'}); pl([[800,14],[808,14],[812,18],[812,23]],{stroke:'#9a9a9a'});
pl([[850,14],[845,10]],{stroke:'#9a9a9a'}); pl([[850,14],[845,18]],{stroke:'#9a9a9a'}); pl([[850,14],[842,14],[838,18],[838,23]],{stroke:'#9a9a9a'});
rect(874,11,18,17,'none',{stroke:INK,lw:1.3,r:2}); txt(907,19,'INtra',{a:'left',s:13.5,c:'#2a2e39'});
rect(938,5,61,28,'#fff',{r:14,stroke:'#e9e9e9'}); txt(968,19,'Trade',{s:13.5,c:'#2a2e39'});
rect(1006,5,70,28,'#2e2e2e',{r:14}); txt(1041,19,'Publish',{s:13.5,c:'#fff'});

// legend row + order boxes
circ(228,60,8,{fill:'#fbd9de',stroke:'none'}); txt(228,58,'≈',{c:'#f23645',s:13});
[['O',245,INK],['1,017.11',256,DN],['H',310,INK],['1,023.68',320,DN],['L',375,INK],['999.82',383,DN],['C',427,INK],['1,000.13',436,DN],['−23.12 (−2.26%)',490,DN]].forEach(a=>txt(a[1],58,a[0],{a:'left',s:12.5,c:a[2]}));
rect(65.5,77.5,70,31,'#fff',{r:5,stroke:'#f7525f'}); txt(100,84,'1,000.13',{c:'#f23645',w:700,s:12.5}); txt(100,98,'SELL',{c:DN,s:11});
txt(153,89,'0.00',{s:11,c:'#2a2e39'});
rect(171.5,77.5,69,31,'#fff',{r:5,stroke:'#2962ff'}); txt(206,84,'1,000.13',{c:'#2962ff',w:700,s:12.5}); txt(206,98,'BUY',{c:'#2962ff',s:11});
// tooltip
pg([[21,43],[27,38],[33,43]],{fill:'#2e2e2e',stroke:'none'}); rect(10,43,211,41,'#2e2e2e',{r:3});
txt(18,54,'Logged in as MahersahamOfficial',{a:'left',c:'#e8e8e8',s:12.3}); txt(18,73,'Active layout: INtraswing 1D',{a:'left',c:'#e8e8e8',s:12.3});
// collapse buttons + sync icons
const syncIcon=(x,y)=>{circ(x,y,8.5,{fill:'#ede7f6',stroke:'none'}); arc(x,y,5,3.6,6.0,{stroke:'#6a3de8',lineWidth:1.9}); arc(x,y,5,0.5,2.9,{stroke:'#6a3de8',lineWidth:1.9});
  pg([[x+5.5,y-4.5],[x+6.5,y+0.5],[x+2.5,y-0.5]],{fill:'#6a3de8',stroke:'none'}); pg([[x-5.5,y+4.5],[x-6.5,y-0.5],[x-2.5,y+0.5]],{fill:'#6a3de8',stroke:'none'});};
const chevBtn=(x,y,w,h,extra)=>{rect(x,y,w,h,'#fff',{r:3,stroke:SEP}); pl([[x+10,y+h/2-2],[x+14,y+h/2+2],[x+18,y+h/2-2]],{lineWidth:1.4}); if(extra) txt(x+27,y+h/2-1,extra,{s:13,c:'#2a2e39'});};
chevBtn(65.5,116.5,38,20,'12'); syncIcon(128,126);
chevBtn(65.5,586.5,29,20); syncIcon(119,597);
chevBtn(65.5,679.5,29,20); syncIcon(119,690);
chevBtn(65.5,780.5,29,20); syncIcon(119,791);
// floating tool
rect(540,100,100,36,'#fff',{r:5,sb:7,sc:'rgba(0,0,0,.18)',sy:1});
[[549,111],[554,111],[549,117],[554,117],[549,123],[554,123]].forEach(p=>rect(p[0],p[1],2,3,'#c9cbd1'));
const wave=(x)=>{pl([[x,129],[x+7,120],[x+14,128],[x+21,120]],{lineWidth:1}); [[x,129],[x+7,120],[x+14,128],[x+21,120]].forEach(p=>circ(p[0],p[1],1.9,{fill:'#fff',lineWidth:1}));};
wave(572); wave(610); txt(579,111,'1',{w:700,s:9}); txt(593,111,'5',{w:700,s:9}); txt(617,111,'A',{w:700,s:9}); txt(631,111,'C',{w:700,s:9});
// USD boxes
[46,584,677].forEach(y=>{rect(959.5,y+.5,68,24,'#fff',{r:4,stroke:'#eceef2'}); txt(963,y+12,'USD',{a:'left',s:11.5,c:'#2a2e39'}); pl([[1016,y+11],[1019,y+14],[1022,y+11]],{lineWidth:1.2});});
txt(964,638,'1 B',{a:'left',s:12.5,c:'#2a2e39'}); txt(964,750,'0',{a:'left',s:12.5,c:'#2a2e39'});
// price tags
rect(891,183,126,17,'#8e24aa',{r:2}); ln(955,183,955,200,'#fff',1); txt(923,190.5,'Overnight',{c:'#f3e5f5',s:12}); txt(1012,190.5,'1,004.85',{a:'right',c:'#f3e5f5',s:12.5});
rect(932,200,85,17,'#00e676',{r:2}); ln(955,200,955,217,'#fff',1); txt(944,207.5,'PH',{c:INK,s:12.5}); txt(1012,207.5,'1,000.13',{a:'right',c:INK,s:12.5});
// event badges
const ebadge=(x)=>{pg([[x-9,558],[x,552],[x+9,558],[x+9,574],[x-9,574]],{stroke:'#089981',lineWidth:1.6,fill:'#fff'}); txt(x,564,'E',{c:'#089981',s:11,w:600});};
const dbadge=(x)=>{circ(x,566,9.5,{stroke:'#2962ff',lineWidth:1.8,fill:'#fff'}); txt(x,565,'D',{c:'#2962ff',s:11,w:500});};
ebadge(201); ebadge(518); ebadge(853); dbadge(232); dbadge(548);
circ(903,566,9.5,{stroke:'#9c27b0',lineWidth:1.6,fill:'#fff'}); pg([[905,560],[899,567],[903,567],[901,572],[907,565],[903,565]],{fill:'#9c27b0',stroke:'none'}); pg([[893,561],[895,566],[900,568],[895,570],[893,575],[891,570],[886,568],[891,566]],{fill:'#4a2bb5',stroke:'none'});
// TV logo
pg([[67,984],[82,984],[82,999],[75,999],[75,990],[67,990]],{fill:'#0b0b0b',stroke:'#fff',lineWidth:1.5}); circ(86,987,3,{fill:'#0b0b0b',stroke:'#fff'}); pg([[92,984],[100,984],[90,999],[83,999]],{fill:'#0b0b0b',stroke:'#fff',lineWidth:1.5});
// time axis gear
pg([[987,1027],[990,1021.5],[996,1021.5],[999,1027],[996,1032.5],[990,1032.5]],{}); circ(993,1027,2.3,{});

// left tools
pl([[18,113],[34,97]],{}); circ(18,113,2.5,{fill:'#fff'}); circ(34,97,2.5,{fill:'#fff'});
[134,143,152].forEach((y,k)=>ln(14,y,38,y)); ln(14,137,35,137); circ(36,134,2.2,{fill:'#fff'}); circ(15,152,2.2,{fill:'#fff'});
pl([[17,174],[26,183],[33,170],[36,188],[19,190],[17,174]],{}); [[17,174],[26,183],[33,170],[36,188],[19,190]].forEach(p=>circ(p[0],p[1],2.2,{fill:'#fff'}));
ln(15,209,34,209); ln(15,219,24,219); ln(15,229,36,229); ln(24,214,24,224); circ(36,209,2.2,{fill:'#fff'}); pl([[26,219],[36,219]],{});
pl([[17,267],[20,259],[27,254],[35,248]],{}); pl([[17,267],[25,266],[29,260],[27,254]],{});
ln(19,288,33,288,INK,1.3); ln(26,288,26,303,INK,1.3); ln(23,303,29,303);
circ(26,333,10,{}); circ(22.5,330,1.2,{fill:INK}); circ(29.5,330,1.2,{fill:INK}); arc(26,334,5,0.3,2.84,{});
ln(11,359,41,359,SEP,1);
pg([[17,393],[15,389],[32,373],[36,377]],{}); [[20,385],[24,381],[28,377]].forEach(p=>ln(p[0],p[1],p[0]+3,p[1]+3));
circ(25,420,7.5,{}); ln(30.5,425.5,35,430); ln(21,420,29,420); ln(25,416,25,424);
ln(11,447,41,447,SEP,1);
pl([[18,465],[18,476],[21,481],[31,481],[34,476],[34,465],[29,465],[29,475],[23,475],[23,465],[18,465]],{});
pg([[17,516],[18,510],[28,500],[32,504],[22,514]],{}); rect(27,511,9,8,'none',{stroke:INK,lw:1.1}); arc(31.5,511,2.6,3.14,6.28,{});
rect(20,546,12,10,'none',{stroke:INK,lw:1.1}); arc(23,546,3.5,3.14,6.28,{}); ln(26,550,26,553);
pl([[16,587],[21,582],[26,580],[31,582],[36,587],[31,592],[26,594],[21,592],[16,587]],{}); circ(26,587,3,{});
pl([[18,633],[16,629],[22,621],[26,624]],{}); pl([[34,617],[36,621],[30,629],[26,626]],{}); ln(23,628,29,622);
ln(11,650,41,650,SEP,1);
rect(19,669,14,17,'none',{stroke:INK,lw:1.1}); ln(16,669,36,669); ln(23,669,23,665); ln(29,669,29,665); ln(23,665,29,665);
rect(9,1025,34,33,'#2e2e2e',{r:4}); pg([[26,1032],[28.5,1038],[35,1038.5],[30,1042.5],[31.5,1049],[26,1045.5],[20.5,1049],[22,1042.5],[17,1038.5],[23.5,1038]],{stroke:'#eee'});

// right tools
pg([[1049,56],[1067,56],[1067,78],[1058,74],[1049,78]],{}); [61,65,69].forEach(y=>ln(1052,y,1064,y));
circ(1058,112,10,{}); pl([[1058,106],[1058,113],[1053,113]],{}); ln(1049,102,1053,99); ln(1067,102,1063,99);
pg([[1058,149],[1070,156],[1058,163],[1046,156]],{}); pl([[1046,161],[1058,168],[1070,161]],{});
pg([[1048,195],[1069,195],[1069,211],[1057,211],[1051,216],[1051,211],[1048,211]],{}); circ(1068,192,8,{fill:'#f23645',stroke:'none'}); txt(1068,191,'1',{c:'#fff',s:10.5});
circ(1058,773,13,{}); circ(1058,773,8,{}); ln(1058,773,1064,767); circ(1058,773,1.6,{fill:INK});
pl([[1045,827],[1055,808],[1059,814],[1062,811],[1071,827],[1045,827]],{}); pl([[1050,818],[1056,821],[1060,818],[1065,820]],{});
rect(1047,851,22,20,'none',{stroke:INK,lw:1.1,r:2}); ln(1047,857,1069,857); ln(1052,848,1052,853); ln(1064,848,1064,853);
arc(1048,917,8,-1.57,0,{}); arc(1048,917,15,-1.57,0,{}); circ(1049,916,1.8,{fill:INK});
rect(1046,889,29,14,'#f23645',{r:7}); txt(1060.5,895,'99+',{c:'#fff',s:10.5});
pl([[1049,961],[1052,957],[1052,950],[1058,945],[1064,950],[1064,957],[1067,961],[1049,961]],{}); arc(1058,962,3,0,3.14,{});
rect(1054,936,21,14,'#f23645',{r:7}); txt(1064.5,942,'59',{c:'#fff',s:10.5});
circ(1058,998,16.5,{fill:'#2e2e2e',stroke:'none'}); [-6,0,6].forEach(dx=>[-6,0,6].forEach(dy=>circ(1058+dx,998+dy,2,{fill:'#fff',stroke:'none'})));
circ(1058,1056,13,{}); txt(1058,1055,'?',{s:14});

// bottom bar
[['1D',79],['5D',109],['1M',140],['3M',172],['6M',204],['YTD',239],['1Y',272],['5Y',300],['All',328]].forEach(a=>txt(a[1],1061,a[0],{s:13.5,c:'#2a2e39'}));
rect(363,1055,15,13,'none',{stroke:INK,lw:1.1,r:1}); ln(363,1059,378,1059); ln(367,1052,367,1056); ln(374,1052,374,1056);
txt(928,1061,'15:17:22 UTC+8',{s:14,c:'#2a2e39'}); ln(983,1050,983,1072,SEP,1); txt(1008,1061,'ADJ',{s:13.5,c:'#2a2e39'});

// ---------- OPTION ----------
const chart=echarts.init(document.getElementById('c'));
chart.setOption({animation:false,backgroundColor:'#fff',textStyle:{fontFamily:FONT},
  grid:grids.map(g=>Object.assign({containLabel:false},g)),
  xAxis:[xAxisFor(0),xAxisFor(1),xAxisFor(2),xAxisFor(3),xAxisFor(4,true)],
  yAxis:[
    yAxisFor(0,673.2,1147.5,PRICE_GRID_TICKS,PRICE_LABEL_TICKS,v=>v===800?'{b|800.00}':fmt2(v)),
    {type:'value',gridIndex:0,min:0,max:1608,show:false,splitLine:{show:false}},
    yAxisFor(1,0.7,1.536,[],[],v=>''),
    yAxisFor(2,-2.62,9.29,[],[],v=>''),
    yAxisFor(3,-31.8,35.3,OSC_TICKS,OSC_TICKS,v=>v===0?'0.0000':(v<0?'−':'')+fmt2(Math.abs(v))),
    yAxisFor(4,-1.84,22.66,RSI_TICKS,RSI_TICKS,v=>v===0?'0.0000':fmt2(v)),
  ],
  series,graphic:{elements:G}});
</script></body></html>
